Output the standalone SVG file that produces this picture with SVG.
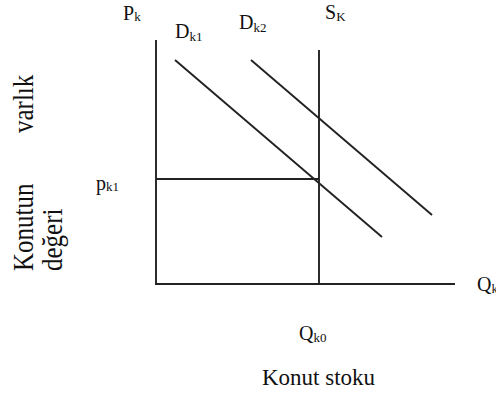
<svg xmlns="http://www.w3.org/2000/svg" width="496" height="394" viewBox="0 0 496 394">
<style>
.ln{stroke:#222;stroke-width:1.9;fill:none}
.t{font-family:"Liberation Serif","Times New Roman",serif;fill:#111;font-size:20px}
.s{font-size:13px}
.big{font-size:25px}
</style>
<rect width="496" height="394" fill="#fff"/>
<g id="connectors">
<line class="ln" x1="156" y1="40" x2="156" y2="284"/>
<line class="ln" x1="155" y1="284" x2="455" y2="284"/>
<line class="ln" x1="319" y1="50" x2="319" y2="284"/>
<line class="ln" x1="156" y1="179" x2="319" y2="179"/>
<line class="ln" x1="175" y1="60" x2="382" y2="237"/>
<line class="ln" x1="251" y1="60" x2="432" y2="215"/>
</g>
<g id="label-pk"><text class="t" x="123" y="20">P<tspan class="s" dy="1">k</tspan></text></g>
<g id="label-dk1"><text class="t" x="175" y="38">D<tspan class="s" dy="3">k1</tspan></text></g>
<g id="label-dk2"><text class="t" x="239" y="29">D<tspan class="s" dy="3">k2</tspan></text></g>
<g id="label-sk"><text class="t" x="325" y="19">S<tspan class="s" dy="2">K</tspan></text></g>
<g id="label-pk1"><text class="t" x="96" y="190">p<tspan class="s" dy="1">k1</tspan></text></g>
<g id="label-qk0"><text class="t" x="299" y="340">Q<tspan class="s" dy="2">k0</tspan></text></g>
<g id="label-qk"><text class="t" x="477" y="291">Q<tspan class="s" dy="2">k</tspan></text></g>
<g id="label-konutstoku"><text class="t" x="262" y="385" style="font-size:23px">Konut stoku</text></g>
<g id="label-varlik"><text class="t big" transform="translate(33,133) rotate(-90) scale(1,1.2)">varlık</text></g>
<g id="label-konutun"><text class="t big" transform="translate(33,271) rotate(-90) scale(1,1.2)">Konutun</text></g>
<g id="label-degeri"><text class="t big" transform="translate(62,271) rotate(-90) scale(1,1.2)">değeri</text></g>
</svg>
